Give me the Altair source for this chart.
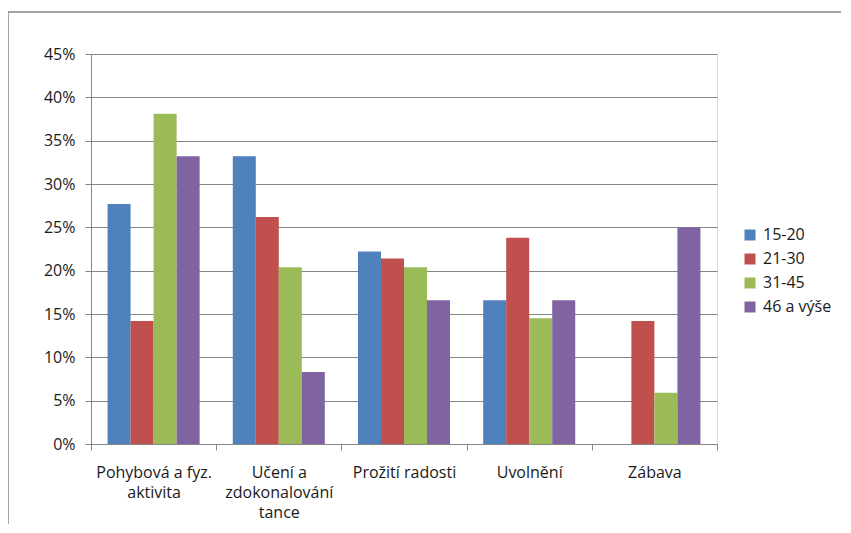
import json
import altair as alt
import pandas as pd

categories = ["Pohybová a fyz. aktivita", "Učení a zdokonalování tance",
              "Prožití radosti", "Uvolnění", "Zábava"]
label_lines = [["Pohybová a fyz.", "aktivita"],
               ["Učení a", "zdokonalování", "tance"],
               ["Prožití radosti"], ["Uvolnění"], ["Zábava"]]
groups = ["15-20", "21-30", "31-45", "46 a výše"]
v_15_20 = [0.277, 0.332, 0.222, 0.166, 0.0]
v_21_30 = [0.142, 0.262, 0.214, 0.238, 0.142]
v_31_45 = [0.381, 0.204, 0.204, 0.145, 0.059]
v_46 = [0.332, 0.083, 0.166, 0.166, 0.250]
colors = ["#4F81BD", "#C0504D", "#9BBB59", "#8064A2"]
y_ticks = [0, 0.05, 0.10, 0.15, 0.20, 0.25, 0.30, 0.35, 0.40, 0.45]

rows = []
for g, vals in zip(groups, [v_15_20, v_21_30, v_31_45, v_46]):
    for c, v in zip(categories, vals):
        rows.append({"category": c, "group": g, "value": v})
df = pd.DataFrame(rows)

expr = "datum.value"
for c, lines in reversed(list(zip(categories, label_lines))):
    expr = f"datum.value == {json.dumps(c)} ? {json.dumps(lines, ensure_ascii=False)} : ({expr})"

FONT = "Open Sans"
GRAY = "#868686"

bars = alt.Chart(df).mark_bar().encode(
    x=alt.X("category:N", sort=categories,
            scale=alt.Scale(paddingInner=0, paddingOuter=0),
            axis=alt.Axis(title=None, labelAngle=0, tickBand="extent",
                          labelExpr=expr, labelFont=FONT, labelFontSize=16,
                          labelLineHeight=20, labelColor="#1a1a1a",
                          labelPadding=14, tickSize=6, tickColor=GRAY,
                          domainColor=GRAY, grid=False, labelBaseline="top")),
    xOffset=alt.XOffset("group:N", sort=groups,
                        scale=alt.Scale(paddingInner=0, paddingOuter=0.72)),
    y=alt.Y("value:Q", scale=alt.Scale(domain=[0, 0.45], nice=False),
            axis=alt.Axis(title=None, format="%", values=y_ticks,
                          labelFont=FONT, labelFontSize=16, labelColor="#1a1a1a",
                          labelPadding=10, tickSize=6, tickColor=GRAY,
                          domainColor=GRAY, gridColor=GRAY, grid=True)),
    color=alt.Color("group:N", sort=groups,
                    scale=alt.Scale(domain=groups, range=colors),
                    legend=alt.Legend(title=None, orient="none", legendX=651,
                                      legendY=173, symbolType="square",
                                      symbolSize=121, symbolStrokeWidth=0,
                                      labelFont=FONT, labelFontSize=16,
                                      labelColor="#1a1a1a", rowPadding=8,
                                      labelOffset=5)),
)

frame = alt.Chart(alt.Data(values=[{}])).mark_rect(
    fill="transparent", stroke=GRAY, strokeWidth=1.5
).encode(x=alt.value(-83), x2=alt.value(900), y=alt.value(-42), y2=alt.value(700))

chart = alt.layer(frame, bars).properties(
    width=626, height=390,
    padding={"left": 83, "top": 46, "right": 124, "bottom": 80},
    autosize=alt.AutoSizeParams(type="none"),
).configure_view(stroke=None).configure(font=FONT)

chart.save("out.html", embed_options={"renderer": "svg", "actions": False})
